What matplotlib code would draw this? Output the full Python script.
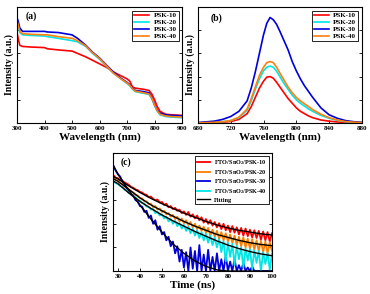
import numpy as np
import matplotlib
matplotlib.use('Agg')
import matplotlib.pyplot as plt

plt.rcParams['font.family'] = ['Liberation Serif', 'DejaVu Serif']
plt.rcParams['font.weight'] = 'bold'
plt.rcParams['axes.labelweight'] = 'bold'
plt.rcParams['mathtext.fontset'] = 'custom'
plt.rcParams['mathtext.rm'] = 'Liberation Serif:bold'

# (a) absorption
wl_a = [300, 305, 310, 320, 350, 400, 410, 450, 500, 520, 550, 575, 600, 625, 650,
        675, 700, 710, 720, 730, 760, 780, 790, 800, 810, 820, 840, 860, 900]
abs_10 = [0.78, 0.72, 0.67, 0.66, 0.655, 0.65, 0.64, 0.63, 0.62, 0.60, 0.57, 0.54, 0.51, 0.48, 0.44,
          0.41, 0.38, 0.36, 0.31, 0.30, 0.29, 0.28, 0.25, 0.20, 0.14, 0.10, 0.075, 0.07, 0.065]
abs_20 = [0.88, 0.83, 0.78, 0.76, 0.755, 0.75, 0.745, 0.73, 0.71, 0.70, 0.66, 0.60, 0.55, 0.49, 0.43,
          0.385, 0.34, 0.32, 0.29, 0.27, 0.255, 0.245, 0.21, 0.15, 0.10, 0.07, 0.055, 0.05, 0.045]
abs_30 = [0.91, 0.87, 0.82, 0.79, 0.79, 0.79, 0.785, 0.78, 0.76, 0.73, 0.67, 0.61, 0.56, 0.50, 0.44,
          0.39, 0.35, 0.33, 0.30, 0.28, 0.27, 0.26, 0.22, 0.16, 0.11, 0.085, 0.07, 0.065, 0.06]
abs_40 = [0.88, 0.84, 0.79, 0.77, 0.765, 0.76, 0.76, 0.745, 0.73, 0.71, 0.665, 0.605, 0.555, 0.495, 0.43,
          0.385, 0.345, 0.325, 0.295, 0.275, 0.26, 0.25, 0.215, 0.155, 0.105, 0.075, 0.06, 0.055, 0.05]

# (b) PL
wl_b = [680, 700, 710, 720, 730, 740, 745, 750, 755, 760, 764, 768, 772, 776, 780,
        785, 790, 795, 800, 805, 810, 815, 820, 830, 840, 850, 860, 870, 880]
pl_10 = [0.0, 0.003, 0.006, 0.012, 0.03, 0.08, 0.14, 0.22, 0.30, 0.36, 0.395, 0.40, 0.385, 0.35, 0.31,
         0.26, 0.21, 0.17, 0.13, 0.10, 0.08, 0.06, 0.045, 0.025, 0.015, 0.008, 0.004, 0.002, 0.001]
pl_20 = [0.001, 0.005, 0.01, 0.02, 0.045, 0.11, 0.19, 0.29, 0.38, 0.45, 0.48, 0.49, 0.48, 0.445, 0.40,
         0.34, 0.29, 0.24, 0.20, 0.17, 0.145, 0.12, 0.10, 0.065, 0.04, 0.022, 0.01, 0.005, 0.002]
pl_30 = [0.003, 0.015, 0.03, 0.055, 0.10, 0.19, 0.30, 0.44, 0.60, 0.76, 0.86, 0.91, 0.89, 0.85, 0.79,
         0.71, 0.63, 0.53, 0.45, 0.38, 0.32, 0.27, 0.22, 0.13, 0.07, 0.04, 0.02, 0.01, 0.005]
pl_40 = [0.001, 0.005, 0.01, 0.02, 0.05, 0.12, 0.21, 0.31, 0.41, 0.48, 0.52, 0.53, 0.52, 0.48, 0.43,
         0.37, 0.31, 0.26, 0.22, 0.19, 0.165, 0.14, 0.115, 0.075, 0.045, 0.025, 0.012, 0.006, 0.003]

# (c) TRPL, 1 ns steps from 28 to 100 ns
t_c = np.arange(28, 101)
tr_10 = [0.81, 0.79, 0.785, 0.77, 0.765, 0.75, 0.74, 0.73, 0.71, 0.705, 0.69, 0.685, 0.67, 0.665, 0.65,
         0.645, 0.625, 0.63, 0.61, 0.60, 0.605, 0.58, 0.585, 0.56, 0.57, 0.54, 0.55, 0.525, 0.535, 0.51,
         0.52, 0.49, 0.505, 0.475, 0.50, 0.46, 0.48, 0.445, 0.47, 0.43, 0.455, 0.41, 0.44, 0.40, 0.43,
         0.385, 0.415, 0.37, 0.405, 0.355, 0.40, 0.345, 0.385, 0.33, 0.38, 0.325, 0.37, 0.31, 0.365, 0.30,
         0.36, 0.295, 0.35, 0.285, 0.345, 0.28, 0.34, 0.265, 0.335, 0.26, 0.33, 0.25, 0.32]
tr_20 = [0.79, 0.77, 0.765, 0.745, 0.74, 0.715, 0.71, 0.69, 0.675, 0.665, 0.645, 0.64, 0.615, 0.615, 0.59,
         0.59, 0.565, 0.57, 0.54, 0.55, 0.52, 0.53, 0.50, 0.51, 0.48, 0.49, 0.46, 0.475, 0.44, 0.46,
         0.42, 0.445, 0.405, 0.43, 0.39, 0.415, 0.37, 0.40, 0.355, 0.385, 0.34, 0.375, 0.325, 0.365, 0.30,
         0.35, 0.29, 0.34, 0.27, 0.33, 0.26, 0.32, 0.25, 0.31, 0.24, 0.30, 0.22, 0.29, 0.21, 0.285,
         0.20, 0.275, 0.19, 0.27, 0.18, 0.26, 0.17, 0.255, 0.16, 0.25, 0.15, 0.245, 0.17]
tr_30 = [0.89, 0.85, 0.82, 0.80, 0.76, 0.735, 0.70, 0.685, 0.65, 0.64, 0.60, 0.59, 0.55, 0.545, 0.50,
         0.51, 0.45, 0.47, 0.40, 0.43, 0.35, 0.38, 0.31, 0.33, 0.26, 0.29, 0.21, 0.25, 0.15, 0.21,
         0.08, 0.18, 0.03, 0.16, 0.0, 0.20, 0.02, 0.17, 0.0, 0.22, 0.0, 0.14, 0.0, 0.18, 0.0,
         0.12, 0.0, 0.15, 0.0, 0.10, 0.0, 0.13, 0.0, 0.08, 0.0, 0.10, 0.0, 0.05, 0.0, 0.07,
         0.0, 0.03, 0.0, 0.04, 0.0, 0.0, 0.0, 0.0, 0.0, 0.0, 0.0, 0.0, 0.0]
tr_40 = [0.76, 0.745, 0.735, 0.72, 0.71, 0.69, 0.68, 0.66, 0.65, 0.63, 0.625, 0.60, 0.595, 0.575, 0.57,
         0.545, 0.545, 0.52, 0.525, 0.49, 0.50, 0.47, 0.48, 0.445, 0.46, 0.42, 0.44, 0.40, 0.425, 0.38,
         0.405, 0.36, 0.39, 0.34, 0.375, 0.32, 0.36, 0.30, 0.345, 0.28, 0.33, 0.26, 0.315, 0.24, 0.30,
         0.22, 0.285, 0.20, 0.27, 0.16, 0.255, 0.08, 0.24, 0.12, 0.23, 0.05, 0.215, 0.10, 0.20, 0.03,
         0.19, 0.09, 0.185, 0.02, 0.175, 0.07, 0.17, 0.0, 0.16, 0.06, 0.155, 0.01, 0.15]

t_fit = [28, 30, 35, 40, 45, 50, 55, 60, 65, 70, 75, 80, 85, 90, 95, 100]
fit_10 = [0.80, 0.78, 0.72, 0.665, 0.615, 0.57, 0.53, 0.49, 0.455, 0.42, 0.39, 0.365, 0.345, 0.33, 0.315, 0.305]
fit_20 = [0.78, 0.76, 0.69, 0.62, 0.56, 0.51, 0.465, 0.42, 0.38, 0.345, 0.31, 0.285, 0.26, 0.24, 0.225, 0.215]
fit_30 = [0.89, 0.82, 0.68, 0.56, 0.44, 0.33, 0.23, 0.15, 0.085, 0.04, 0.01, 0.0, 0.0, 0.0, 0.0, 0.0]
fit_40 = [0.76, 0.74, 0.66, 0.59, 0.53, 0.475, 0.425, 0.38, 0.335, 0.295, 0.255, 0.22, 0.19, 0.165, 0.145, 0.13]

labels = ['PSK-10', 'PSK-20', 'PSK-30', 'PSK-40']
cols_ab = ['#ff0000', '#00e5e5', '#0000dd', '#ff7f10']


def style_ax(ax):
    ax.tick_params(direction='in', length=2, width=0.6, labelsize=5, pad=2,
                   right=True, top=False, labelleft=False)
    for s in ax.spines.values():
        s.set_linewidth(0.8)


def add_legend(ax, fs):
    leg = ax.legend(loc='upper right', fontsize=fs, handlelength=2.2, handletextpad=0.6,
                    borderpad=0.3, labelspacing=0.15, frameon=True, fancybox=False,
                    edgecolor='black', framealpha=1)
    leg.get_frame().set_linewidth(0.6)


fig = plt.figure(figsize=(3.7, 2.94), dpi=100)
ax_a = fig.add_axes([0.046, 0.582, 0.446, 0.394])
ax_b = fig.add_axes([0.535, 0.582, 0.443, 0.394])
ax_c = fig.add_axes([0.305, 0.078, 0.430, 0.402])

for y, c, lab in zip([abs_10, abs_20, abs_30, abs_40], cols_ab, labels):
    ax_a.plot(wl_a, y, color=c, lw=1.2, label=lab)
ax_a.set_xlim(300, 900)
ax_a.set_ylim(0, 1)
ax_a.set_xticks([300, 400, 500, 600, 700, 800, 900])
ax_a.set_yticks([0.2, 0.4, 0.6, 0.8])
style_ax(ax_a)
ax_a.set_xlabel('Wavelength (nm)', fontsize=8, labelpad=1)
ax_a.set_ylabel('Intensity (a.u.)', fontsize=7, labelpad=2)
ax_a.text(0.05, 0.9, '(a)', transform=ax_a.transAxes, fontsize=7, weight='bold')
add_legend(ax_a, 5)

for y, c, lab in zip([pl_10, pl_20, pl_30, pl_40], cols_ab, labels):
    ax_b.plot(wl_b, y, color=c, lw=1.2, label=lab)
ax_b.set_xlim(680, 880)
ax_b.set_ylim(0, 1)
ax_b.set_xticks([680, 720, 760, 800, 840, 880])
ax_b.set_yticks([0.2, 0.4, 0.6, 0.8])
style_ax(ax_b)
ax_b.set_xlabel('Wavelength (nm)', fontsize=8, labelpad=1)
ax_b.set_ylabel('Intensity (a.u.)', fontsize=7, labelpad=2)
ax_b.text(0.08, 0.88, '(b)', transform=ax_b.transAxes, fontsize=7, weight='bold')
add_legend(ax_b, 5)

cols_c = ['#ff0000', '#ff8000', '#0000dd', '#00e5e5']
labels_c = [r'FTO/SnO$_2$/PSK-10', r'FTO/SnO$_2$/PSK-20',
            r'FTO/SnO$_2$/PSK-30', r'FTO/SnO$_2$/PSK-40']
for y, c, lab in zip([tr_10, tr_20, tr_30, tr_40], cols_c, labels_c):
    ax_c.plot(t_c, y, color=c, lw=1.3, label=lab)
for i, f in enumerate([fit_10, fit_20, fit_30, fit_40]):
    ax_c.plot(t_fit, f, color='black', lw=1.0, label='Fitting' if i == 0 else None)
ax_c.set_xlim(27.7, 100)
ax_c.set_ylim(0, 1)
ax_c.set_xticks([30, 40, 50, 60, 70, 80, 90, 100])
ax_c.set_yticks([0.2, 0.4, 0.6, 0.8])
style_ax(ax_c)
ax_c.set_xlabel('Time (ns)', fontsize=8, labelpad=1)
ax_c.set_ylabel('Intensity (a.u.)', fontsize=7, labelpad=2)
ax_c.text(0.05, 0.9, '(c)', transform=ax_c.transAxes, fontsize=7, weight='bold')
add_legend(ax_c, 4.5)

fig.savefig('out.png', dpi=100)
